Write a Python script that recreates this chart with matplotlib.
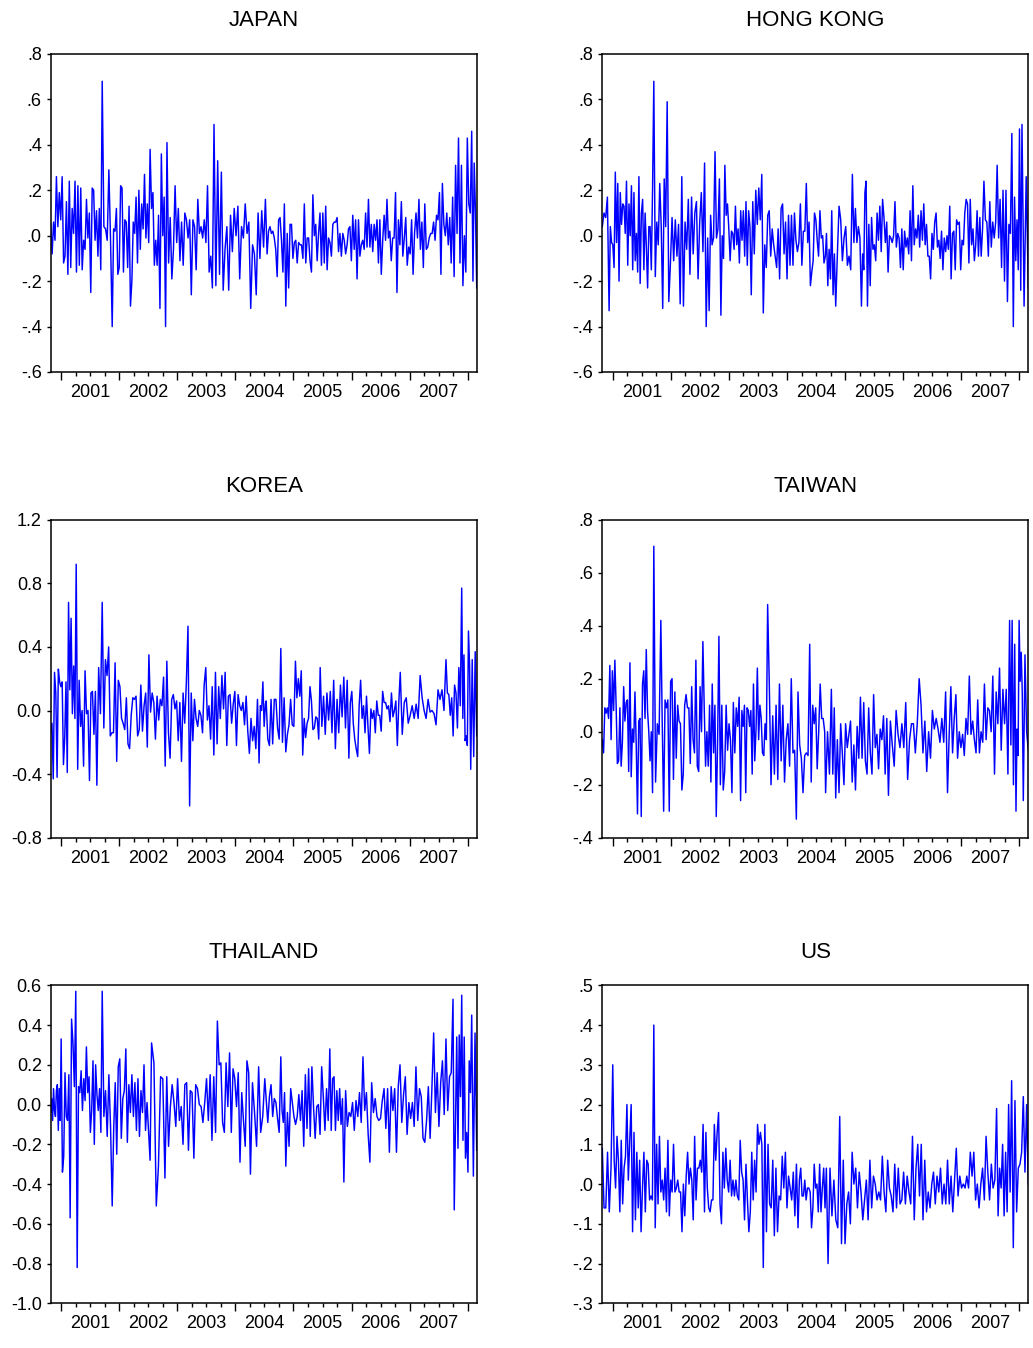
import numpy as np
import matplotlib
matplotlib.use("Agg")
import matplotlib.pyplot as plt
from matplotlib.ticker import FixedLocator, FuncFormatter, NullFormatter

plt.rcParams['font.family'] = ['Liberation Sans', 'DejaVu Sans']

# ---------------- data (weekly returns) ----------------
START = 2000.82
END = 2008.155
years = [2001, 2002, 2003, 2004, 2005, 2006, 2007]

japan_a = [0.05, -0.08, 0.06, -0.02, 0.26, 0.04, 0.19, 0.07, 0.26, -0.12, -0.09, 0.15, -0.17, 0.24, -0.14, 0.12, 0.01, 0.24, -0.16, 0.22, -0.13, 0.21, -0.15, -0.02, -0.06, 0.16, -0.01, 0.10, -0.25, 0.21, 0.20, -0.02, 0.11, -0.09, 0.12, -0.15, 0.68, 0.04, 0.03, -0.02, 0.29, -0.02, -0.40, 0.03, 0.02, 0.12, -0.17, -0.14, 0.22, 0.21, -0.16, 0.07, 0.06, -0.14, 0.13, -0.31, -0.20, 0.06, 0.01, 0.17, -0.12, 0.20, -0.06, 0.14, 0.03, 0.27, -0.01, 0.14, -0.03, 0.38, 0.12, 0.19, -0.13, -0.02, -0.13, 0.09, -0.32, 0.36, 0.00, 0.17, -0.40, 0.41, -0.12, 0.08, -0.19, -0.06, 0.22, -0.03, 0.12, -0.11, 0.06, -0.13, 0.10, 0.07, -0.01, 0.07, -0.26, 0.07, 0.04, -0.15, 0.16, 0.01, 0.04, -0.01, 0.07, -0.03, 0.22, -0.16, -0.09, -0.23, 0.49, -0.22, 0.33, -0.17, 0.28, -0.24, -0.06, 0.04, -0.24, 0.09, -0.07, 0.12, 0.00, 0.13, -0.19, 0.04, -0.01, 0.14, 0.01, 0.06, -0.32, -0.04, -0.08, -0.26, 0.10, -0.10, 0.11, -0.05, 0.16]
japan_b = [-0.08, 0.02, 0.04, 0.01, 0.02, -0.01, -0.06, -0.18, 0.07, 0.08, -0.02, -0.16, 0.14, -0.31, 0.01, -0.23, 0.05, 0.05, -0.10, -0.03, -0.02, -0.12, -0.03, -0.04, -0.04, -0.10, 0.14, -0.12, -0.01, -0.01, -0.11, -0.16, 0.18, 0.00, 0.05, -0.11, 0.01, 0.10, -0.13, 0.10, -0.12, 0.13, -0.15, -0.01, -0.03, -0.09, 0.05, 0.06, 0.06, 0.08, -0.07, 0.01, -0.09, 0.01, -0.02, -0.08, -0.04, 0.03, 0.04, -0.11, 0.09, -0.06, 0.07, -0.19, 0.07, -0.09, -0.04, -0.02, -0.06, 0.10, -0.05, 0.16, -0.05, 0.05, -0.07, 0.05, -0.02, 0.07, -0.12, 0.07, -0.17, -0.02, 0.09, -0.02, 0.16, -0.01, 0.02, -0.11, -0.01, -0.01, 0.19, -0.25, 0.07, -0.04, 0.15, -0.09, -0.01, 0.08, -0.13, -0.05, -0.08, 0.07, -0.17, 0.01, 0.10, -0.01, 0.16, -0.06, 0.06, -0.14, 0.14, -0.06, -0.05, -0.01, 0.01, 0.01, 0.06, -0.02, 0.09, 0.07, 0.19, -0.17, 0.23, 0.05, 0.00, 0.10, -0.04, 0.08, -0.12, 0.17, -0.18, 0.31, 0.01, 0.43, -0.12, 0.31, -0.22, 0.00, -0.16, 0.43, 0.14, 0.10, 0.46, -0.20, 0.32, 0.11, -0.23]
# dates of some distinctive observations: (value, year) in order
japan_a_dates = [(0.68, 2001.707), (-0.40, 2001.879), (0.41, 2002.822), (0.49, 2003.632), (-0.32, 2004.264)]
japan_b_dates = [(-0.31, 2004.868), (-0.25, 2006.782), (0.46, 2008.069)]
japan_span = (2004.517, 2004.546)

hk_a = [0.04, 0.10, 0.08, 0.17, -0.33, 0.04, -0.03, -0.04, -0.14, 0.28, -0.03, 0.23, -0.20, 0.19, 0.05, 0.14, 0.13, 0.01, 0.24, -0.13, 0.14, 0.00, 0.22, -0.15, 0.19, -0.11, 0.01, -0.16, 0.26, -0.21, 0.10, 0.16, -0.15, 0.10, -0.05, -0.23, 0.04, 0.04, -0.15, 0.21, 0.68, -0.18, 0.06, -0.04, 0.23, 0.04, -0.32, 0.25, 0.04, 0.59, -0.29, -0.12, 0.08, -0.11, 0.07, -0.09, 0.05, -0.30, 0.26, -0.31, 0.06, -0.06, 0.16, -0.17, 0.17, -0.08, 0.10, 0.15, -0.19, 0.06, 0.19, -0.07, 0.32, -0.40, -0.01, -0.33, 0.09, -0.04, -0.01, 0.37, -0.01, 0.03, 0.25, -0.35, 0.00, -0.10, 0.31, 0.09, 0.14, 0.03, -0.11, 0.02, 0.01, -0.06, 0.13, -0.04, 0.03, -0.12, 0.11, -0.02, 0.11, -0.09, 0.15, -0.13, 0.11, 0.04, -0.26, 0.15, -0.08, 0.20, 0.05, 0.21, 0.07, 0.27, -0.34, -0.04, -0.14, 0.09, 0.11, -0.09, 0.03, -0.04, -0.09, -0.14, 0.03, -0.19, 0.12, 0.14, -0.08, 0.06, -0.19, 0.09, -0.13, 0.09, -0.13, 0.10, -0.02, -0.07, -0.03, 0.14, -0.13, 0.02, 0.02, 0.23, -0.03, 0.06, -0.22, -0.16, -0.11, 0.10, 0.07, -0.02, -0.09, 0.11, -0.01, 0.00, -0.12, -0.09]
hk_b = [0.01, -0.22, -0.06, -0.19, 0.11, -0.26, -0.08, -0.31, -0.08, 0.13, 0.07, -0.11, -0.01, 0.04, -0.13, -0.09, -0.15, 0.27, -0.03, 0.12, -0.03, 0.04, -0.01, -0.31, -0.08, -0.15, 0.19, 0.24, -0.31, 0.05, -0.22, 0.08, -0.06, -0.04, -0.11, 0.10, -0.02, 0.13, -0.07, 0.16, 0.08, -0.03, 0.06, -0.16, 0.00, -0.01, -0.03, 0.00, 0.15, -0.05, 0.01, -0.01, -0.14, 0.03, -0.15, 0.02, -0.05, -0.01, -0.08, 0.11, -0.11, 0.22, -0.04, 0.03, -0.01, 0.09, -0.05, 0.11, -0.02, 0.14, -0.04, 0.05, -0.09, -0.09, -0.19, 0.01, -0.06, 0.06, 0.10, -0.05, -0.02, -0.10, 0.02, -0.15, -0.01, -0.07, 0.00, -0.06, 0.13, -0.19, 0.01, 0.02, -0.15, 0.07, 0.05, 0.06, -0.15, -0.02, -0.04, 0.10, 0.16, 0.14, -0.12, 0.16, -0.04, 0.03, -0.11, -0.04, 0.11, -0.09, 0.08, -0.09, 0.03, 0.24, 0.07, 0.06, -0.09, 0.15, -0.05, 0.06, -0.01, 0.06, 0.31, -0.01, 0.16, -0.14, 0.20, -0.20, 0.20, -0.29, 0.05, 0.01, 0.45, -0.40, 0.17, -0.11, 0.07, -0.15, 0.47, -0.24, 0.49, -0.31, 0.26, -0.23]
hk_a_dates = [(-0.33, 2000.937), (0.68, 2001.707), (0.59, 2001.937), (-0.40, 2002.609), (-0.35, 2002.862), (-0.26, 2003.385), (-0.34, 2003.592), (0.23, 2004.333)]
hk_b_dates = [(-0.31, 2004.839), (0.27, 2005.126), (-0.31, 2005.282), (0.24, 2005.362), (0.22, 2006.167), (0.24, 2007.391), (-0.40, 2007.897), (0.49, 2008.046)]
hk_span = (2004.661, 2004.68)

korea_a = [-0.14, -0.08, -0.43, 0.24, 0.11, -0.42, 0.26, 0.18, 0.15, 0.18, -0.34, -0.17, 0.18, -0.39, 0.68, 0.13, 0.58, -0.02, 0.28, -0.05, 0.92, -0.37, 0.19, -0.10, 0.00, -0.35, 0.25, -0.02, 0.00, -0.44, 0.11, 0.12, -0.15, 0.12, -0.47, 0.27, -0.02, 0.68, -0.11, 0.32, 0.22, 0.40, -0.16, -0.14, -0.14, 0.30, -0.32, 0.19, 0.15, -0.05, -0.08, -0.12, 0.08, -0.21, -0.24, -0.03, 0.08, 0.07, 0.09, -0.16, -0.12, 0.16, -0.13, 0.03, 0.11, -0.23, 0.35, -0.01, 0.11, 0.05, -0.18, 0.09, -0.06, 0.07, 0.03, 0.21, -0.35, 0.31, -0.14, -0.30, 0.07, 0.10, 0.01, 0.06, -0.19, 0.05, -0.32, 0.11, -0.08, 0.18, 0.53, -0.60, 0.11, -0.19, 0.07, -0.05, -0.10, 0.00, -0.03, -0.14, 0.16, 0.27, -0.06, 0.03, -0.18, 0.15, -0.28, 0.24, -0.21, 0.15, -0.05, 0.22, 0.01, 0.24, -0.22, 0.09, 0.10, -0.08, 0.04, 0.12, -0.22, 0.10, 0.03, 0.00, 0.05, -0.09, 0.09, -0.13, -0.27, -0.05, -0.19, -0.10, -0.24, 0.07, -0.33, 0.03, 0.00, 0.18, -0.10, 0.04]
korea_b = [0.06, -0.18, -0.22, 0.07, -0.21, 0.07, 0.07, -0.11, -0.18, 0.39, -0.20, 0.08, -0.26, -0.15, -0.09, 0.07, -0.09, -0.10, 0.31, 0.08, 0.20, 0.09, 0.25, -0.28, -0.05, -0.17, -0.08, -0.05, 0.15, 0.06, -0.12, -0.11, -0.04, -0.05, -0.18, 0.27, -0.10, 0.09, -0.15, 0.11, -0.06, 0.12, -0.14, 0.19, -0.24, 0.07, -0.14, 0.16, -0.04, 0.21, -0.11, 0.19, -0.30, 0.05, 0.12, -0.08, -0.18, -0.24, -0.29, 0.03, 0.19, -0.05, 0.03, -0.14, 0.09, -0.10, -0.27, 0.01, -0.05, 0.00, -0.14, 0.06, -0.03, -0.03, -0.13, 0.12, 0.05, 0.05, 0.01, 0.03, -0.07, 0.11, -0.04, 0.00, 0.06, -0.22, 0.05, 0.24, -0.15, 0.05, 0.08, -0.08, -0.03, 0.03, -0.05, 0.04, -0.05, 0.22, 0.08, 0.00, -0.05, 0.07, -0.01, 0.00, -0.02, -0.09, 0.13, 0.07, 0.13, 0.00, 0.32, 0.11, 0.10, -0.03, 0.08, -0.16, 0.16, 0.11, -0.11, 0.27, 0.03, 0.77, -0.05, 0.35, -0.19, -0.16, -0.22, 0.50, 0.28, -0.37, 0.32, -0.29, 0.37, -0.16]
korea_a_dates = [(0.92, 2001.259), (-0.47, 2001.615), (0.68, 2001.707), (0.35, 2002.511), (0.53, 2003.184), (-0.33, 2004.408)]
korea_b_dates = [(0.39, 2004.782), (-0.26, 2004.868), (0.31, 2005.034), (0.27, 2005.460), (-0.30, 2005.954), (0.24, 2006.839), (0.32, 2007.626), (0.77, 2007.897), (-0.37, 2008.052)]
korea_span = (2004.517, 2004.53)

taiwan_a = [-0.03, -0.08, 0.09, 0.07, 0.09, 0.05, 0.25, -0.03, 0.23, 0.08, 0.27, 0.10, -0.12, -0.11, 0.09, -0.13, -0.04, 0.17, 0.04, 0.11, 0.12, -0.15, 0.26, -0.17, 0.01, -0.04, 0.15, -0.05, -0.31, 0.04, 0.05, -0.32, 0.18, 0.23, 0.05, 0.31, 0.08, 0.00, -0.11, 0.00, -0.23, 0.70, -0.19, 0.03, -0.01, 0.42, 0.03, -0.30, 0.12, 0.09, 0.12, -0.30, 0.19, 0.20, -0.18, 0.15, -0.10, 0.10, 0.04, 0.03, -0.22, -0.16, 0.10, 0.14, 0.09, 0.09, -0.12, 0.17, -0.03, -0.08, 0.27, -0.13, -0.15, 0.17, 0.00, 0.34, 0.09, -0.13, 0.00, -0.13, 0.10, -0.19, 0.18, -0.08, 0.10, -0.32, -0.04, 0.36, -0.20, 0.10, -0.22, -0.15, 0.10, -0.07, 0.03, -0.03, -0.23, 0.11, -0.08, 0.09, 0.02, 0.13, -0.26, 0.08, 0.02, 0.10, -0.23, 0.09, 0.08, 0.02, 0.08, -0.16, 0.18, -0.11, 0.01, 0.24, -0.03, 0.10, 0.05, -0.08, -0.09, 0.03, -0.03, 0.48, 0.17, -0.20, 0.06, -0.16, 0.10, -0.18, 0.18, -0.11, 0.10, -0.19, -0.03, 0.03, -0.13, 0.20, -0.08, -0.07, -0.33, 0.15, -0.05, -0.10, -0.23, -0.09, -0.08, -0.09, 0.33, -0.19, 0.10, 0.03, 0.09, -0.14, 0.00, 0.18, 0.05, 0.05, 0.00]
taiwan_b = [-0.23, 0.00, -0.16, 0.16, -0.16, 0.09, -0.25, -0.03, -0.23, 0.03, -0.08, -0.20, 0.03, -0.06, -0.01, 0.04, -0.19, -0.05, -0.22, 0.02, -0.10, 0.13, -0.10, 0.11, -0.11, -0.16, 0.09, -0.08, -0.16, 0.14, -0.06, -0.01, -0.14, 0.01, -0.03, 0.06, -0.16, 0.05, -0.24, 0.04, -0.05, -0.13, 0.08, -0.01, -0.06, 0.03, -0.06, 0.11, -0.18, -0.03, 0.03, 0.03, -0.08, 0.03, 0.20, 0.10, -0.08, 0.04, -0.15, 0.00, -0.10, 0.08, 0.01, 0.05, 0.01, -0.04, 0.05, -0.04, 0.15, -0.23, -0.01, 0.17, -0.08, 0.05, 0.14, -0.10, 0.00, -0.06, -0.01, -0.09, 0.05, -0.01, 0.21, -0.01, 0.04, -0.03, -0.08, 0.12, -0.08, 0.00, -0.04, 0.18, -0.03, 0.09, 0.08, 0.00, 0.21, -0.16, 0.15, 0.03, 0.24, -0.07, 0.16, 0.03, 0.16, -0.16, 0.42, -0.05, 0.42, -0.20, 0.33, -0.30, 0.01, -0.09, 0.42, 0.19, 0.30, 0.15, -0.26, 0.29, 0.00, -0.07]
taiwan_a_dates = [(0.70, 2001.707), (0.42, 2001.828), (0.34, 2002.552), (0.36, 2002.828), (-0.26, 2003.201), (0.48, 2003.667), (-0.33, 2004.161), (0.33, 2004.391)]
taiwan_b_dates = [(0.16, 2004.764), (-0.25, 2004.839), (-0.24, 2005.747), (0.20, 2006.276), (-0.23, 2006.764), (0.42, 2007.833), (-0.30, 2007.943), (-0.26, 2008.069)]
taiwan_span = (2004.649, 2004.665)

thailand_a = [-0.04, 0.03, -0.08, 0.08, -0.03, -0.06, 0.07, 0.10, -0.13, 0.08, -0.08, 0.33, -0.34, -0.26, 0.16, -0.06, -0.08, 0.15, -0.57, 0.43, 0.31, 0.09, 0.57, -0.82, 0.09, 0.06, 0.17, -0.03, 0.13, 0.02, 0.29, 0.06, 0.14, -0.14, -0.03, 0.22, -0.20, 0.20, 0.05, -0.03, 0.08, -0.14, 0.57, -0.06, 0.07, -0.16, 0.15, -0.11, -0.51, -0.12, 0.11, -0.25, 0.19, 0.23, -0.17, 0.03, 0.07, 0.28, -0.19, 0.10, -0.04, 0.15, -0.06, 0.11, -0.13, 0.13, -0.16, 0.07, -0.04, 0.20, -0.13, 0.01, -0.13, -0.28, 0.31, 0.21, -0.51, -0.31, 0.14, 0.13, -0.37, 0.14, -0.21, -0.01, 0.10, 0.01, -0.11, 0.13, -0.08, -0.01, -0.20, 0.10, 0.11, -0.23, 0.07, 0.06, -0.27, 0.10, 0.08, 0.00, -0.01, -0.09, 0.01, 0.13, -0.08, 0.15, -0.18, 0.14, -0.14, 0.42, 0.20, 0.21, -0.09, -0.14, 0.21, -0.01, 0.26, -0.14, 0.18, 0.13, -0.01, 0.16, -0.29, 0.06, -0.08, -0.21, 0.22, 0.16, -0.35, 0.11, -0.04, -0.21, 0.19, -0.14, -0.06, 0.13]
thailand_b = [0.03, -0.09, 0.04, 0.10, -0.06, 0.03, 0.01, -0.07, -0.14, 0.24, -0.03, -0.09, 0.06, -0.31, -0.04, -0.21, 0.08, 0.01, -0.06, -0.10, -0.06, 0.05, -0.08, 0.07, -0.21, 0.15, -0.12, 0.18, -0.16, 0.19, -0.01, -0.17, -0.01, 0.00, -0.15, 0.19, 0.04, -0.13, 0.08, -0.08, 0.28, -0.13, 0.13, 0.14, -0.13, 0.07, -0.08, 0.08, -0.10, 0.03, -0.39, 0.07, -0.11, -0.04, -0.06, 0.01, -0.13, 0.02, -0.06, 0.06, -0.09, 0.24, -0.03, 0.06, -0.15, -0.29, 0.11, -0.04, 0.03, -0.06, -0.08, -0.07, 0.02, 0.08, -0.12, 0.08, -0.24, 0.09, -0.03, 0.08, -0.24, 0.09, 0.20, -0.09, 0.05, 0.14, -0.15, 0.01, -0.07, 0.01, -0.11, 0.19, -0.08, 0.08, 0.04, -0.17, -0.19, -0.08, 0.09, -0.17, 0.08, 0.36, -0.04, 0.16, -0.11, 0.11, 0.22, -0.05, 0.33, -0.03, 0.14, 0.16, 0.53, -0.53, -0.08, 0.34, -0.22, 0.35, 0.04, 0.55, -0.18, 0.34, -0.27, -0.14, -0.34, 0.22, 0.06, 0.45, -0.36, 0.36, -0.23]
thailand_a_dates = [(0.33, 2001.0), (-0.57, 2001.155), (-0.82, 2001.276), (0.57, 2001.707), (-0.51, 2001.879), (0.31, 2002.557), (-0.51, 2002.638), (-0.37, 2002.787), (0.42, 2003.690), (-0.35, 2004.259)]
thailand_b_dates = [(0.24, 2004.782), (-0.31, 2004.868), (0.28, 2005.626), (-0.39, 2005.868), (-0.29, 2006.316), (0.36, 2007.414), (0.53, 2007.747), (0.55, 2007.897), (0.45, 2008.069)]
thailand_span = (2004.506, 2004.53)

us_a = [0.09, -0.06, -0.06, 0.08, -0.07, 0.04, 0.30, 0.06, -0.01, 0.12, 0.06, -0.07, 0.11, -0.05, 0.04, 0.07, 0.20, 0.01, 0.11, 0.20, -0.12, 0.13, -0.09, 0.08, -0.06, 0.06, -0.12, -0.01, 0.08, -0.07, 0.06, 0.05, -0.04, -0.03, -0.04, 0.40, -0.11, 0.10, -0.05, 0.12, -0.02, 0.01, -0.04, 0.04, -0.07, 0.11, -0.08, 0.01, -0.02, 0.10, -0.02, -0.01, 0.01, -0.02, -0.02, -0.12, 0.00, -0.08, 0.02, 0.08, 0.00, 0.04, 0.01, -0.09, 0.12, -0.04, 0.04, 0.04, 0.06, 0.03, 0.15, -0.07, 0.13, -0.01, -0.06, -0.07, -0.04, -0.04, 0.15, 0.06, 0.13, 0.18, -0.05, -0.10, 0.08, -0.01, 0.09, 0.01, -0.02, 0.06, -0.03, 0.01, -0.03, 0.01, -0.03, -0.04, 0.11, 0.03, 0.01, -0.09, 0.05, -0.04, -0.12, -0.07, 0.08, -0.04, 0.06, -0.02, 0.15, 0.10, 0.13, 0.10, -0.21, 0.15, -0.12, 0.10, -0.05, -0.06, 0.06, -0.13, 0.04, -0.12, -0.03, -0.04, 0.07, -0.01, 0.08, -0.06, 0.02, -0.01, -0.04, 0.03, -0.08, 0.05, -0.11, 0.01, 0.04, -0.03, -0.03, 0.01, -0.04, -0.01, -0.01, -0.02, -0.11, -0.06, 0.05, -0.01, 0.00, -0.07, 0.05, -0.07, -0.01, 0.04, -0.06]
us_b = [0.04, -0.20, 0.04, -0.08, 0.01, -0.09, -0.11, 0.17, -0.15, 0.06, -0.15, -0.05, -0.02, -0.10, 0.08, 0.00, 0.04, -0.06, 0.03, -0.02, -0.09, -0.04, 0.01, -0.09, 0.06, -0.06, 0.02, 0.00, -0.04, -0.02, -0.04, 0.07, -0.02, -0.07, 0.06, -0.01, -0.03, -0.07, 0.05, -0.06, 0.04, -0.05, -0.04, 0.03, -0.05, 0.02, -0.02, -0.05, 0.12, -0.09, 0.04, 0.10, -0.03, 0.10, -0.09, 0.06, -0.07, -0.02, -0.06, 0.00, 0.03, -0.05, 0.02, -0.02, 0.04, -0.05, 0.00, -0.05, 0.06, -0.05, 0.02, -0.07, 0.01, 0.09, -0.03, 0.02, -0.01, 0.00, -0.01, 0.02, -0.01, 0.08, 0.02, 0.08, -0.04, 0.00, -0.06, 0.00, 0.04, -0.04, 0.12, 0.03, -0.04, 0.05, -0.01, 0.01, 0.19, -0.08, 0.04, -0.01, 0.10, -0.08, 0.08, -0.07, 0.20, -0.02, 0.26, -0.16, 0.21, -0.07, 0.04, 0.05, 0.08, 0.22, 0.03, 0.20, 0.00]
us_a_dates = [(0.30, 2001.0), (0.40, 2001.707), (0.18, 2002.822), (-0.21, 2003.592), (-0.11, 2004.190)]
us_b_dates = [(-0.20, 2004.707), (0.17, 2004.908), (0.12, 2006.161), (0.19, 2007.609), (0.26, 2007.868)]
us_span = (2004.655, 2004.678)

# y-axis ticks / labels per panel
japan_yticks = [-0.6, -0.4, -0.2, 0.0, 0.2, 0.4, 0.6, 0.8]
japan_ylabels = ["-.6", "-.4", "-.2", ".0", ".2", ".4", ".6", ".8"]
hk_yticks = japan_yticks
hk_ylabels = japan_ylabels
korea_yticks = [-0.8, -0.4, 0.0, 0.4, 0.8, 1.2]
korea_ylabels = ["-0.8", "-0.4", "0.0", "0.4", "0.8", "1.2"]
taiwan_yticks = [-0.4, -0.2, 0.0, 0.2, 0.4, 0.6, 0.8]
taiwan_ylabels = ["-.4", "-.2", ".0", ".2", ".4", ".6", ".8"]
thailand_yticks = [-1.0, -0.8, -0.6, -0.4, -0.2, 0.0, 0.2, 0.4, 0.6]
thailand_ylabels = ["-1.0", "-0.8", "-0.6", "-0.4", "-0.2", "0.0", "0.2", "0.4", "0.6"]
us_yticks = [-0.3, -0.2, -0.1, 0.0, 0.1, 0.2, 0.3, 0.4, 0.5]
us_ylabels = ["-.3", "-.2", "-.1", ".0", ".1", ".2", ".3", ".4", ".5"]


def obs_dates(values, dated, t0, t1):
    """Observation dates: interpolate between dated observations."""
    idx, ts = [0], [t0]
    pos = 0
    for v, t in dated:
        k = next(i for i in range(pos + 1, len(values) - 1) if abs(values[i] - v) < 1e-9)
        idx.append(k)
        ts.append(t)
        pos = k
    idx.append(len(values) - 1)
    ts.append(t1)
    return np.interp(np.arange(len(values)), idx, ts)


def series_xy(a, b, adates, bdates, span):
    ta = obs_dates(a, adates, START, span[0])
    tb = obs_dates(b, bdates, span[1], END)
    return np.concatenate([ta, tb]), np.array(a + b)


panels = [
    ("JAPAN", japan_a, japan_b, japan_a_dates, japan_b_dates, japan_span, japan_yticks, japan_ylabels),
    ("HONG KONG", hk_a, hk_b, hk_a_dates, hk_b_dates, hk_span, hk_yticks, hk_ylabels),
    ("KOREA", korea_a, korea_b, korea_a_dates, korea_b_dates, korea_span, korea_yticks, korea_ylabels),
    ("TAIWAN", taiwan_a, taiwan_b, taiwan_a_dates, taiwan_b_dates, taiwan_span, taiwan_yticks, taiwan_ylabels),
    ("THAILAND", thailand_a, thailand_b, thailand_a_dates, thailand_b_dates, thailand_span, thailand_yticks, thailand_ylabels),
    ("US", us_a, us_b, us_a_dates, us_b_dates, us_span, us_yticks, us_ylabels),
]

W, H = 1033, 1348
fig = plt.figure(figsize=(W / 100, H / 100), dpi=100)

col_left = [50.7, 602.3]
row_top = [54.0, 519.7, 985.3]
ax_w, ax_h = 426.0, 318.0

major_x = [float(y) for y in years] + [2008.0]
minor_x = [q for q in np.arange(2000.75, 2008.3, 0.25)
           if (START <= q <= END) and abs(q - round(q)) > 1e-6]


def year_fmt(x, pos):
    if abs((x % 1) - 0.5) < 1e-6:
        return str(int(np.floor(x)))
    return ""


for i, (title, a, b, ad, bd, span, yt, yl) in enumerate(panels):
    r, c = divmod(i, 2)
    left = col_left[c] / W
    bottom = 1 - (row_top[r] + ax_h) / H
    ax = fig.add_axes([left, bottom, ax_w / W, ax_h / H])
    x, y = series_xy(a, b, ad, bd, span)
    ax.plot(x, y, color="#0000FF", lw=1.05)
    ax.set_xlim(START, END)
    ax.set_ylim(yt[0], yt[-1])
    ax.set_yticks(yt)
    ax.set_yticklabels(yl)
    ax.xaxis.set_major_locator(FixedLocator(major_x))
    ax.xaxis.set_major_formatter(NullFormatter())
    ax.xaxis.set_minor_locator(FixedLocator(minor_x))
    ax.xaxis.set_minor_formatter(FuncFormatter(year_fmt))
    ax.tick_params(axis="x", which="major", direction="out", length=5.8, width=1.0,
                   top=False, color="black")
    ax.tick_params(axis="x", which="minor", direction="out", length=2.9, width=1.0,
                   top=False, pad=5.6, labelsize=13, color="black")
    ax.tick_params(axis="y", which="major", direction="out", length=2.9, width=1.0,
                   right=False, pad=3.5, labelsize=13, color="black")
    for sp in ax.spines.values():
        sp.set_linewidth(1.1)
        sp.set_color("black")
    ax.set_title(title, fontsize=16, pad=20)

fig.savefig("out.png", dpi=100)
